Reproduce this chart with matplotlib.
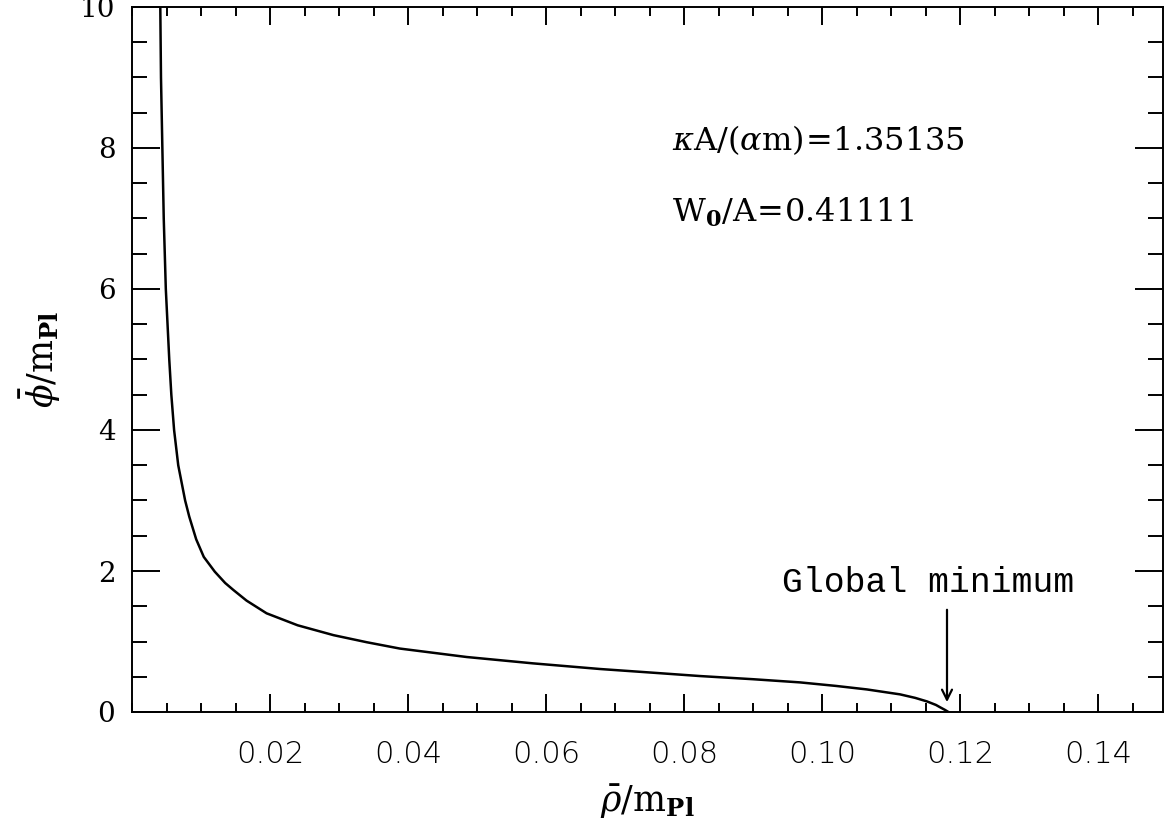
import numpy as np
import matplotlib
matplotlib.use("Agg")
import matplotlib.pyplot as plt
from matplotlib.ticker import MultipleLocator, FixedFormatter, FixedLocator

# curve: rho_bar / m_Pl  vs  phi_bar / m_Pl
rho = [0.0041, 0.0042, 0.0044, 0.0046, 0.0049, 0.0054, 0.0057, 0.0061, 0.0067,
       0.0077, 0.0083, 0.0093, 0.0104, 0.0120, 0.0135, 0.0147, 0.0166,
       0.0195, 0.0240, 0.0292, 0.0340, 0.0388, 0.0485, 0.0581, 0.0678, 0.0751,
       0.0823, 0.0900, 0.0968, 0.1020, 0.1065, 0.1113, 0.1135, 0.1152, 0.1165,
       0.1171, 0.1178, 0.1183]
phi = [10.0, 9.0, 8.0, 7.0, 6.0, 5.0, 4.5, 4.0, 3.5,
       3.0, 2.77, 2.45, 2.2, 1.99, 1.83, 1.73, 1.58,
       1.40, 1.23, 1.09, 0.99, 0.90, 0.78, 0.69, 0.61, 0.56,
       0.51, 0.465, 0.42, 0.37, 0.32, 0.25, 0.20, 0.15, 0.10,
       0.067, 0.03, 0.0]

x_ticks = [0.02, 0.04, 0.06, 0.08, 0.10, 0.12, 0.14]
x_labels = ["0.02", "0.04", "0.06", "0.08", "0.10", "0.12", "0.14"]
y_ticks = [0, 2, 4, 6, 8, 10]
y_labels = ["0", "2", "4", "6", "8", "10"]

min_x = 0.1181
plt.rcParams["mathtext.fontset"] = "dejavuserif"

fig = plt.figure(figsize=(11.64, 8.32), dpi=100)
ax = fig.add_axes([132/1164, 120/832, 1031/1164, 705/832])

ax.plot(rho, phi, color="black", lw=1.8, solid_joinstyle="round")

ax.set_xlim(0, 0.1494)
ax.set_ylim(0, 10)

ax.xaxis.set_major_locator(FixedLocator(x_ticks))
ax.xaxis.set_major_formatter(FixedFormatter(x_labels))
ax.xaxis.set_minor_locator(MultipleLocator(0.005))
ax.yaxis.set_major_locator(FixedLocator(y_ticks))
ax.yaxis.set_major_formatter(FixedFormatter(y_labels))
ax.yaxis.set_minor_locator(MultipleLocator(0.5))

ax.tick_params(axis="x", which="major", direction="in", length=13, width=1.4,
               top=True, pad=20, labelsize=22)
ax.tick_params(axis="x", which="minor", direction="in", length=6.5, width=1.4, top=True)
ax.tick_params(axis="y", which="major", direction="in", length=20, width=1.4,
               right=True, pad=12, labelsize=20)
ax.tick_params(axis="y", which="minor", direction="in", length=11, width=1.4, right=True)
for lab in ax.get_xticklabels():
    lab.set_family("DejaVu Sans")
    lab.set_fontweight("light")
    lab.set_color("black")
for lab in ax.get_yticklabels():
    lab.set_family("DejaVu Serif")
for s in ax.spines.values():
    s.set_linewidth(1.4)

ax.set_xlabel(r"$\bar{\rho}/\mathrm{m}_{\mathbf{Pl}}$", fontsize=25, labelpad=10)
ax.set_ylabel(r"$\bar{\phi}/\mathrm{m}_{\mathbf{Pl}}$", fontsize=25, labelpad=12)

ax.text(672/1164, 1 - 140/832, r"$\kappa\mathrm{A}/(\alpha\mathrm{m})\!=\!1.35135$",
        transform=fig.transFigure, fontsize=23, va="center", ha="left")
ax.text(672/1164, 1 - 212/832, r"$\mathrm{W}_{\mathbf{0}}/\mathrm{A}\!=\!0.41111$",
        transform=fig.transFigure, fontsize=23, va="center", ha="left")

ax.annotate("", xy=(min_x, 0.14), xytext=(min_x, 1.45),
            arrowprops=dict(arrowstyle="->", color="black", lw=1.6,
                            mutation_scale=18, shrinkA=0, shrinkB=0))
ax.text(0.1153, 1.83, "Global minimum", family="Liberation Mono", fontsize=25,
        ha="center", va="center")

fig.savefig("out.png", dpi=100)
